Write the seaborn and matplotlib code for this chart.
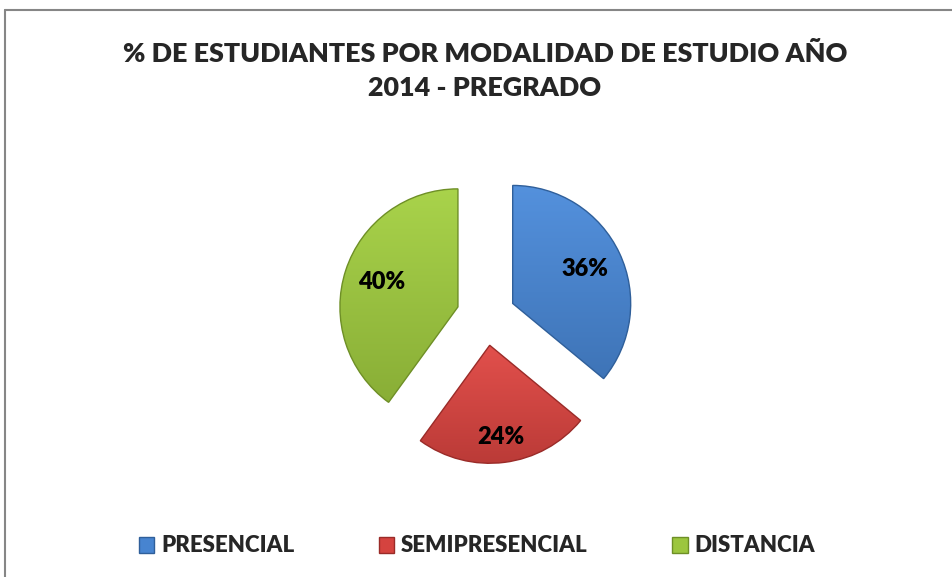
import matplotlib
matplotlib.use("Agg")
import matplotlib.pyplot as plt
import seaborn as sns
import numpy as np
from matplotlib.patches import Patch
from matplotlib.lines import Line2D
from matplotlib.colors import to_rgb

categories = ["PRESENCIAL", "SEMIPRESENCIAL", "DISTANCIA"]
values = [36, 24, 40]
colors = ["#4784D0", "#D5433F", "#9CC63E"]
edge_colors = ["#2F5F9A", "#9A2B28", "#6E8F26"]
title = "% DE ESTUDIANTES POR MODALIDAD DE ESTUDIO AÑO\n2014 - PREGRADO"

sns.set_theme(style="white")
plt.rcParams["font.family"] = ["Lato", "DejaVu Sans"]

W, H = 952, 577
fig = plt.figure(figsize=(W / 100, H / 100), dpi=100)
R = 118.0
cx, cy = 486.0, 316.0
ax = fig.add_axes([0, 0, 1, 1])

wedges, texts, autotexts = ax.pie(
    values, colors=colors, startangle=90, counterclock=False,
    explode=[0.25] * 3, autopct="%1.0f%%", pctdistance=0.68,
    wedgeprops=dict(linewidth=1.0),
    textprops=dict(fontsize=17, fontweight="heavy", color="black"),
)
label_dist = [0.68, 0.78, 0.68]
for w, ec, c, t, d in zip(wedges, edge_colors, colors, autotexts, label_dist):
    w.set_edgecolor(ec)
    # subtle vertical shading inside each wedge
    base = np.array(to_rgb(c))
    light = np.clip(base + 0.05, 0, 1)
    dark = base * 0.88
    grad = np.linspace(0, 1, 64)[:, None, None]
    img = light * (1 - grad) + dark * grad
    img = np.repeat(img, 2, axis=1)
    bb = w.get_path().get_extents()
    im = ax.imshow(img, extent=(bb.x0, bb.x1, bb.y0, bb.y1), origin="upper",
                   zorder=w.get_zorder(), interpolation="bilinear", aspect="auto")
    im.set_clip_path(w)
    w.set_zorder(w.get_zorder() + 0.1)
    w.set_facecolor("none")
    th = np.deg2rad((w.theta1 + w.theta2) / 2)
    xc, yc = w.center
    t.set_position((xc + d * w.r * np.cos(th), yc + d * w.r * np.sin(th)))
    t.set_zorder(5)
ax.set_xlim(-cx / R, (W - cx) / R)
ax.set_ylim(-(H - cy) / R, cy / R)
ax.set_aspect("equal")
ax.axis("off")

# border lines (top and left)
fig.add_artist(Line2D([4.5 / W, 1], [1 - 9.5 / H, 1 - 9.5 / H], color="#868686", lw=1.5))
fig.add_artist(Line2D([4.5 / W, 4.5 / W], [0, 1 - 9.5 / H], color="#868686", lw=1.5))

fig.text(485 / W, 1 - 71 / H, title, ha="center", va="center", fontsize=19.4,
         fontweight="heavy", linespacing=1.5)

handles = [Patch(facecolor=c, edgecolor=e) for c, e in zip(colors, edge_colors)]
fig.legend(handles, categories, loc="center", bbox_to_anchor=(477 / W, 1 - 546 / H),
           ncol=3, frameon=False, prop=dict(weight="heavy", size=16),
           handlelength=0.7, handleheight=0.7, handletextpad=0.3, columnspacing=3.8)

fig.savefig("out.png", dpi=100, facecolor="white")
